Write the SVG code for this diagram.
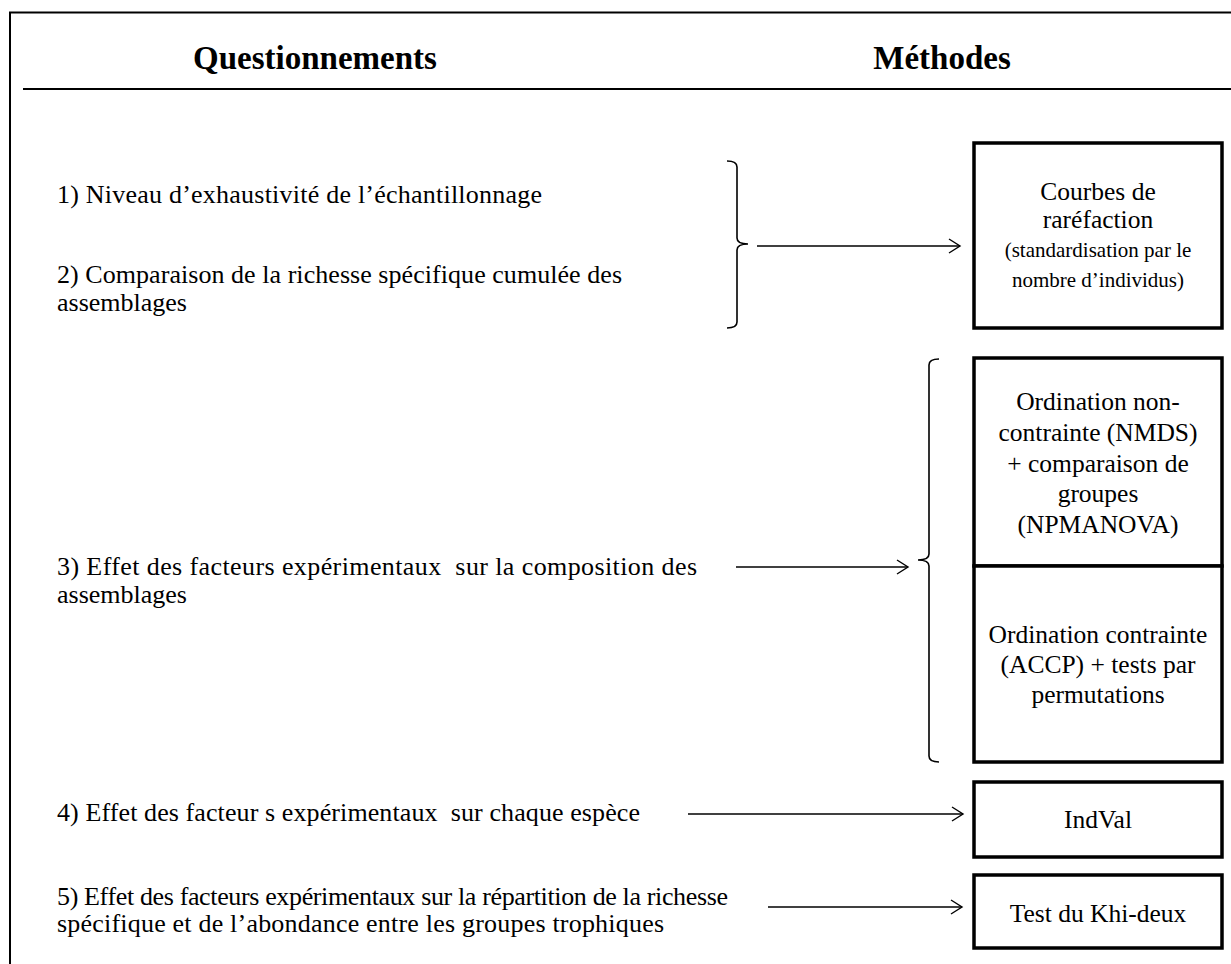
<svg xmlns="http://www.w3.org/2000/svg" width="1231" height="964" viewBox="0 0 1231 964">
  <style>
    text { font-family: "Liberation Serif", "Times New Roman", serif; fill: #000; white-space: pre; }
    .head { font-size: 33px; font-weight: bold; text-anchor: middle; }
    .q { font-size: 26px; }
    .m { font-size: 25.5px; text-anchor: middle; }
    .ms { font-size: 21px; text-anchor: middle; }
    .box { fill: #fff; stroke: #000; stroke-width: 3.5; }
    .rule { fill: none; stroke: #000; stroke-width: 2; }
    .brace { fill: none; stroke: #000; stroke-width: 1.6; }
    .arrow { fill: none; stroke: #000; stroke-width: 1.4; marker-end: url(#head); }
  </style>
  <defs>
    <marker id="head" markerUnits="userSpaceOnUse" markerWidth="14" markerHeight="16" refX="12" refY="8" orient="auto">
      <path d="M1,1 L12,8 L1,15" fill="none" stroke="#000" stroke-width="1.4"/>
    </marker>
  </defs>

  <rect width="1231" height="964" fill="#fff"/>

  <!-- frame and header -->
  <g id="frame">
    <path class="rule" d="M10,964 L10,12.5 L1231,12.5"/>
    <line class="rule" x1="23" y1="89" x2="1231" y2="89"/>
    <text class="head" x="315" y="69">Questionnements</text>
    <text class="head" x="942" y="69">Méthodes</text>
  </g>

  <!-- questions -->
  <g id="q1">
    <text class="q" x="57" y="203" textLength="485" lengthAdjust="spacing">1) Niveau d’exhaustivité de l’échantillonnage</text>
  </g>
  <g id="q2">
    <text class="q" x="57" y="283" textLength="565" lengthAdjust="spacing">2) Comparaison de la richesse spécifique cumulée des</text>
    <text class="q" x="57" y="311">assemblages</text>
  </g>
  <g id="q3">
    <text class="q" x="57" y="575" textLength="640" lengthAdjust="spacing">3) Effet des facteurs expérimentaux  sur la composition des</text>
    <text class="q" x="57" y="603">assemblages</text>
  </g>
  <g id="q4">
    <text class="q" x="57" y="821" textLength="583" lengthAdjust="spacing">4) Effet des facteur s expérimentaux  sur chaque espèce</text>
  </g>
  <g id="q5">
    <text class="q" x="57" y="905" textLength="671" lengthAdjust="spacing">5) Effet des facteurs expérimentaux sur la répartition de la richesse</text>
    <text class="q" x="57" y="932" textLength="607" lengthAdjust="spacing">spécifique et de l’abondance entre les groupes trophiques</text>
  </g>

  <!-- methods -->
  <g id="m-rarefaction">
    <rect class="box" x="974" y="143" width="248" height="185"/>
    <text class="m" x="1098" y="200">Courbes de</text>
    <text class="m" x="1098" y="228">raréfaction</text>
    <text class="ms" x="1098" y="257">(standardisation par le</text>
    <text class="ms" x="1098" y="287">nombre d’individus)</text>
  </g>
  <g id="m-nmds">
    <rect class="box" x="974" y="358" width="248" height="208"/>
    <text class="m" x="1098" y="410">Ordination non-</text>
    <text class="m" x="1098" y="441">contrainte (NMDS)</text>
    <text class="m" x="1098" y="472">+ comparaison de</text>
    <text class="m" x="1098" y="502">groupes</text>
    <text class="m" x="1098" y="533">(NPMANOVA)</text>
  </g>
  <g id="m-accp">
    <rect class="box" x="974" y="566" width="248" height="196"/>
    <text class="m" x="1098" y="643">Ordination contrainte</text>
    <text class="m" x="1098" y="673">(ACCP) + tests par</text>
    <text class="m" x="1098" y="703">permutations</text>
  </g>
  <g id="m-indval">
    <rect class="box" x="974" y="782" width="248" height="75"/>
    <text class="m" x="1098" y="828">IndVal</text>
  </g>
  <g id="m-khi">
    <rect class="box" x="974" y="875" width="248" height="73"/>
    <text class="m" x="1098" y="922">Test du Khi-deux</text>
  </g>

  <!-- connectors -->
  <g id="connectors">
    <path class="brace" d="M727,161 Q737,161 737,167 L737,238 Q737,244 748,244 Q737,244 737,250 L737,322 Q737,328 727,328"/>
    <path class="brace" d="M939,359 Q929,359 929,365 L929,554 Q929,560 918,560 Q929,560 929,566 L929,756 Q929,762 939,762"/>
    <line class="arrow" x1="757" y1="246" x2="960" y2="246"/>
    <line class="arrow" x1="736" y1="567" x2="908" y2="567"/>
    <line class="arrow" x1="688" y1="814" x2="963" y2="814"/>
    <line class="arrow" x1="768" y1="907" x2="962" y2="907"/>
  </g>
</svg>
